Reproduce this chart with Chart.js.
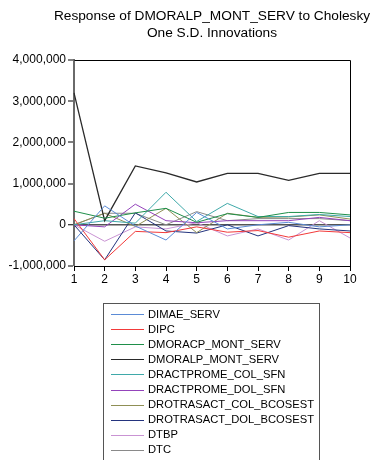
<!DOCTYPE html>
<html>
<head>
<meta charset="utf-8">
<script src="https://cdn.jsdelivr.net/npm/chart.js@4"></script>
<style>
  html, body { margin: 0; padding: 0; background: #fff; }
  #wrap { width: 377px; height: 460px; position: relative; }
</style>
</head>
<body>
<div id="wrap"><canvas id="c" width="377" height="460"></canvas></div>
<script>
// Impulse responses of DMORALP_MONT_SERV, periods 1..10
const periods = ['1','2','3','4','5','6','7','8','9','10'];
const yTicks = [-1000000, 0, 1000000, 2000000, 3000000, 4000000];

const dimaeServ        = [-390000,  460000,  -30000, -370000,  300000, -100000,       0,   60000,  -50000,       0];
const dipc             = [ 150000, -850000, -160000, -190000,  -50000, -180000, -140000, -300000, -150000, -190000];
const dmoracpMontServ  = [ 330000,  160000,  290000,  400000,   60000,  270000,  180000,  300000,  300000,  240000];
const dmoralpMontServ  = [3200000,  100000, 1430000, 1260000, 1040000, 1250000, 1250000, 1080000, 1250000, 1250000];
const dractpromeColSfn = [      0,  100000,   40000,  790000,   80000,  520000,  200000,  200000,  250000,  200000];
const dractpromeDolSfn = [      0,  -50000,  500000,  100000,   50000,  100000,  100000,  100000,  180000,  100000];
const drotrasactColBco = [      0,  280000,  -40000,  400000, -190000,  280000,  180000,  190000,  240000,  140000];
const drotrasactDolBco = [      0, -850000,  290000, -150000, -200000,       0, -270000,  -20000, -100000, -150000];
const dtbp             = [      0, -400000,  -50000, -100000,   50000, -270000, -100000, -370000,  100000, -320000];
const dtc              = [      0,  280000,  280000,       0,  320000,  100000,  150000,  150000,  150000,  100000];

const seriesNames = ['DIMAE_SERV','DIPC','DMORACP_MONT_SERV','DMORALP_MONT_SERV','DRACTPROME_COL_SFN',
  'DRACTPROME_DOL_SFN','DROTRASACT_COL_BCOSEST','DROTRASACT_DOL_BCOSEST','DTBP','DTC'];
const seriesValues = [dimaeServ, dipc, dmoracpMontServ, dmoralpMontServ, dractpromeColSfn,
  dractpromeDolSfn, drotrasactColBco, drotrasactDolBco, dtbp, dtc];
const seriesColors = ['#5b8bd6','#f23a3a','#1f8f4a','#2a2a2a','#3fa9a9',
  '#9444bb','#8f8f55','#24347e','#c993d3','#8a8a8a'];

const titleLines = ['Response of DMORALP_MONT_SERV to Cholesky', 'One S.D. Innovations'];
const FONT = '"Liberation Sans", Arial, sans-serif';

// Frame around the plot, centred title and a boxed one-column legend
const decor = {
  id: 'decor',
  afterDraw(chart) {
    const { ctx, chartArea: a } = chart;
    ctx.save();
    ctx.strokeStyle = '#000';
    ctx.lineWidth = 1;
    ctx.beginPath();
    ctx.moveTo(Math.round(a.left) + 0.5, Math.round(a.top) + 0.5);
    ctx.lineTo(Math.round(a.right) + 0.5, Math.round(a.top) + 0.5);
    ctx.lineTo(Math.round(a.right) + 0.5, Math.round(a.bottom) + 0.5);
    ctx.stroke();

    ctx.fillStyle = '#000';
    ctx.font = '13.7px ' + FONT;
    ctx.textAlign = 'center';
    ctx.textBaseline = 'middle';
    const cx = (a.left + a.right) / 2;
    titleLines.forEach((t, i) => ctx.fillText(t, cx, 16 + i * 17));

    // legend
    const bx = 103.5, by = 303.5, bw = 216, bh = 180;
    ctx.strokeStyle = '#555';
    ctx.strokeRect(bx, by, bw, bh);
    ctx.font = '11.2px ' + FONT;
    ctx.textAlign = 'left';
    chart.data.datasets.forEach((ds, i) => {
      const y = 314 + i * 15.1;
      ctx.strokeStyle = ds.borderColor;
      ctx.lineWidth = 1;
      ctx.beginPath();
      ctx.moveTo(111, Math.round(y) + 0.5);
      ctx.lineTo(144, Math.round(y) + 0.5);
      ctx.stroke();
      ctx.fillStyle = '#000';
      ctx.fillText(ds.label, 148, y + 0.5);
    });
    ctx.restore();
  }
};

new Chart(document.getElementById('c'), {
  type: 'line',
  data: {
    labels: periods,
    datasets: seriesNames.map((name, i) => ({
      label: name,
      data: seriesValues[i],
      borderColor: seriesColors[i],
      backgroundColor: seriesColors[i],
      borderWidth: i === 3 ? 1.3 : 1,
      pointRadius: 0,
      tension: 0,
      fill: false
    }))
  },
  options: {
    responsive: false,
    animation: false,
    devicePixelRatio: 1,
    layout: { padding: { left: 0, right: 27, top: 60, bottom: 174 } },
    plugins: { legend: { display: false }, title: { display: false }, tooltip: { enabled: false } },
    scales: {
      x: {
        type: 'category',
        offset: false,
        afterFit(s) { s.height = 20; },
        border: { color: '#000', width: 1 },
        grid: { drawOnChartArea: false, tickLength: 5, tickColor: '#000' },
        ticks: { color: '#000', font: { family: FONT, size: 12 }, padding: 1, maxRotation: 0, autoSkip: false }
      },
      y: {
        min: -1000000,
        max: 4000000,
        afterFit(s) { s.width = 74; },
        afterBuildTicks(s) { s.ticks = yTicks.map(v => ({ value: v })); },
        border: { color: '#6a6a6a', width: 2 },
        grid: {
          drawOnChartArea: true,
          color: c => (c.tick && c.tick.value === 0 ? '#555' : 'rgba(0,0,0,0)'),
          lineWidth: c => (c.tick && c.tick.value === 0 ? 1.5 : 0),
          tickLength: 6,
          tickColor: '#000',
          tickWidth: 1
        },
        ticks: {
          color: '#000',
          font: { family: FONT, size: 12 },
          padding: 2,
          callback: v => v.toLocaleString('en-US')
        }
      }
    }
  },
  plugins: [decor]
});
</script>
</body>
</html>
